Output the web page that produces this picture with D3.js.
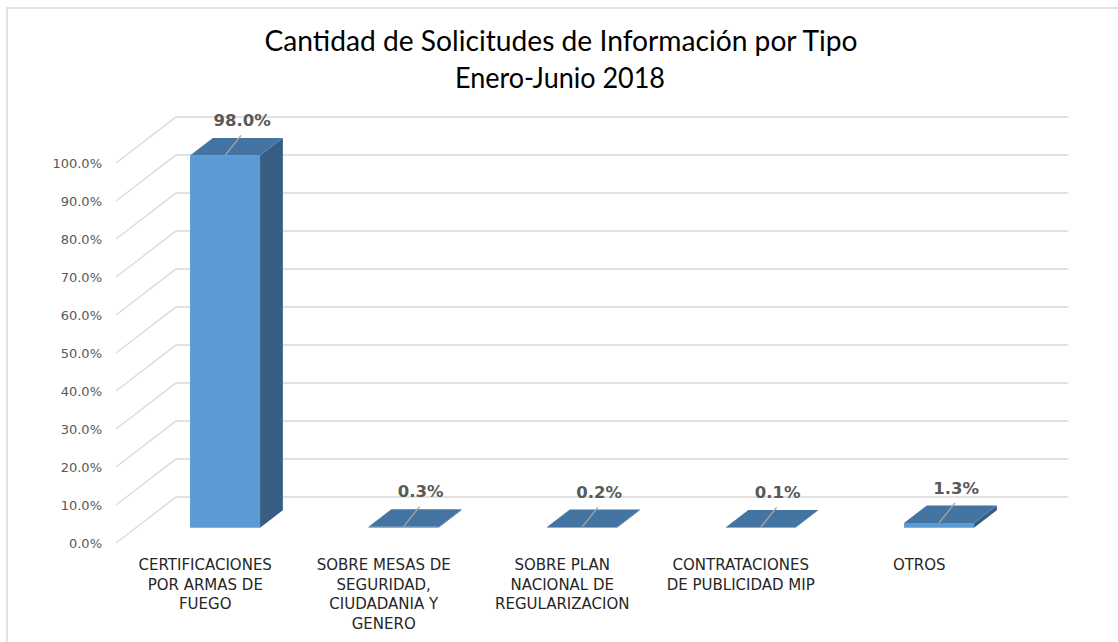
<!DOCTYPE html>
<html>
<head>
<meta charset="utf-8">
<script src="https://cdn.jsdelivr.net/npm/d3@7"></script>
<style>
  html, body { margin: 0; padding: 0; background: #fff; }
  svg { display: block; }
</style>
</head>
<body>
<svg id="chart" width="1118" height="642"></svg>
<script>
// ---- data ----
const titleLines = ["Cantidad de Solicitudes de Información por Tipo", "Enero-Junio 2018"];
const categories = [
  "CERTIFICACIONES\nPOR ARMAS DE\nFUEGO",
  "SOBRE MESAS DE\nSEGURIDAD,\nCIUDADANIA Y\nGENERO",
  "SOBRE PLAN\nNACIONAL DE\nREGULARIZACION",
  "CONTRATACIONES\nDE PUBLICIDAD MIP",
  "OTROS"
];
const values = [98.0, 0.3, 0.2, 0.1, 1.3];
const yTicks = [0, 10, 20, 30, 40, 50, 60, 70, 80, 90, 100];

// ---- layout ----
const W = 1118, H = 642;
const svg = d3.select("#chart");
const DX = 60, DY = 46;          // full depth offset (oblique projection)
const Z0 = 0.33, Z1 = 0.71;      // bar depth range
const BAR_W = 70;

const x = d3.scaleBand().domain(categories).range([116, 1008.5]).padding(0);
const y = d3.scaleLinear().domain([0, 100]).range([543, 163]);
const P = (px, v, z) => [px + z * DX, y(v) - z * DY];

svg.append("rect").attr("width", W).attr("height", H).attr("fill", "#fff");
// outer frame
svg.append("rect").attr("x", 7).attr("y", 8).attr("width", W + 20).attr("height", H + 20)
  .attr("fill", "none").attr("stroke", "#d9d9d9").attr("stroke-width", 1.5);

// title
svg.append("text").attr("x", 561).attr("y", 51).attr("text-anchor", "middle")
  .attr("font-family", "Lato, sans-serif").attr("font-size", 28).attr("fill", "#000")
  .attr("textLength", 593).attr("lengthAdjust", "spacingAndGlyphs")
  .text(titleLines[0]);
svg.append("text").attr("x", 560).attr("y", 88).attr("text-anchor", "middle")
  .attr("font-family", "Lato, sans-serif").attr("font-size", 28).attr("fill", "#000")
  .attr("textLength", 210).attr("lengthAdjust", "spacingAndGlyphs")
  .text(titleLines[1]);

// gridlines: back wall + diagonal side lines
const x0 = x.range()[0], x1 = x.range()[1];
const grid = svg.append("g").attr("stroke", "#d9d9d9").attr("stroke-width", 1.3).attr("fill", "none");
yTicks.forEach(t => {
  const a = P(x0, t, 0), b = P(x0, t, 1), c = P(x1, t, 1);
  grid.append("path").attr("d", `M${a[0]},${a[1]}L${b[0]},${b[1]}L${c[0]},${c[1]}`);
});

// y tick labels
svg.append("g").selectAll("text").data(yTicks).join("text")
  .attr("x", 102).attr("y", d => y(d)).attr("dy", "0.35em")
  .attr("text-anchor", "end")
  .attr("font-family", "'DejaVu Sans', sans-serif").attr("font-size", 13)
  .attr("fill", "#595959")
  .text(d => d3.format(".1f")(d) + "%");

// bars
const poly = pts => "M" + pts.map(p => p.join(",")).join("L") + "Z";
const bars = svg.append("g");
categories.forEach((c, i) => {
  const v = values[i];
  const xc = x(c) + x.bandwidth() / 2;
  const xl = xc - BAR_W / 2, xr = xc + BAR_W / 2;
  // side
  bars.append("path").attr("fill", "#375e82")
    .attr("d", poly([P(xr, 0, Z0), P(xr, v, Z0), P(xr, v, Z1), P(xr, 0, Z1)]));
  // front
  bars.append("path").attr("fill", "#5b9bd5")
    .attr("d", poly([P(xl, 0, Z0), P(xr, 0, Z0), P(xr, v, Z0), P(xl, v, Z0)]));
  // top
  bars.append("path").attr("fill", "#4474a1")
    .attr("d", poly([P(xl, v, Z0), P(xr, v, Z0), P(xr, v, Z1), P(xl, v, Z1)]));
});

// data labels with leader lines
const labels = svg.append("g");
categories.forEach((c, i) => {
  const v = values[i];
  const xc = x(c) + x.bandwidth() / 2;
  const f = P(xc, v, Z0);
  labels.append("line").attr("x1", f[0]).attr("y1", f[1])
    .attr("x2", f[0] + 16).attr("y2", f[1] - 20)
    .attr("stroke", "#a6a6a6").attr("stroke-width", 1.3);
  labels.append("text").attr("x", f[0] + 17).attr("y", f[1] - 35).attr("dy", "0.35em")
    .attr("text-anchor", "middle")
    .attr("font-family", "'DejaVu Sans', sans-serif").attr("font-weight", "bold")
    .attr("font-size", 16.5).attr("fill", "#595959")
    .text(d3.format(".1f")(v) + "%");
});

// category labels
const cat = svg.append("g");
categories.forEach(c => {
  const xc = x(c) + x.bandwidth() / 2;
  const t = cat.append("text").attr("x", xc).attr("y", 570).attr("text-anchor", "middle")
    .attr("font-family", "'DejaVu Sans', sans-serif").attr("font-size", 15)
    .attr("fill", "#262626");
  c.split("\n").forEach((line, k) => {
    t.append("tspan").attr("x", xc).attr("dy", k === 0 ? 0 : 19.5).text(line);
  });
});
</script>
</body>
</html>
